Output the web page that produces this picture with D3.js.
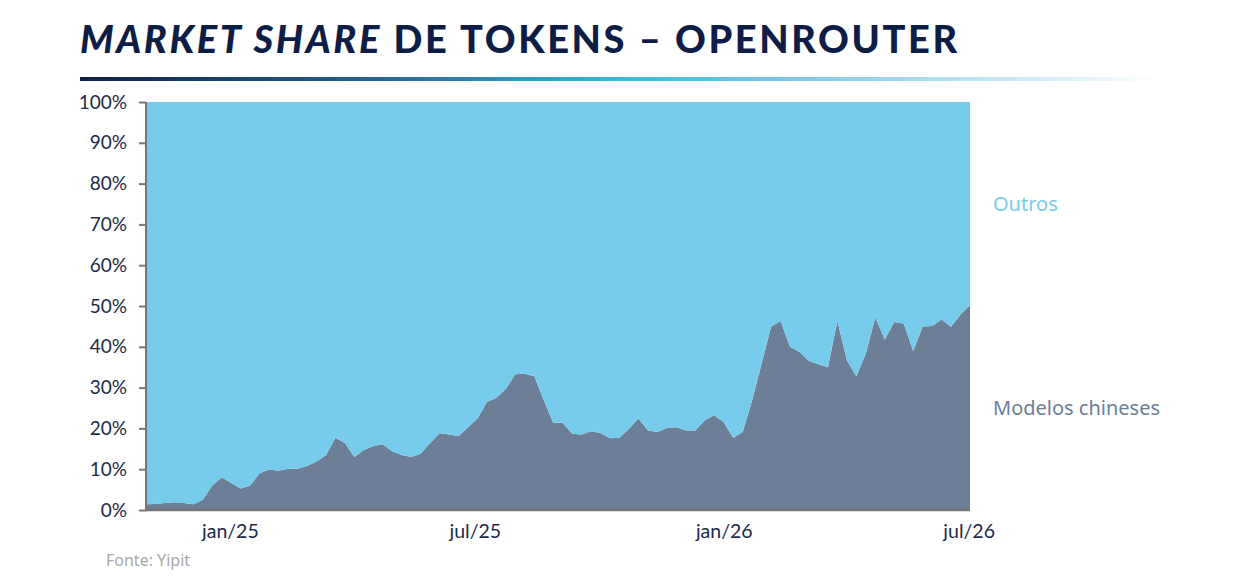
<!DOCTYPE html>
<html>
<head>
<meta charset="utf-8">
<script src="https://cdn.jsdelivr.net/npm/d3@7"></script>
<style>
  body { margin: 0; background: #fff; }
  text { font-family: Lato, "Noto Sans", sans-serif; }
</style>
</head>
<body>
<div id="chart"></div>
<script>
// weekly observations, first week starting 31/oct/24
const startDate = new Date(2024, 9, 31);

const chineseShare = [
    1.4, 1.5, 1.7, 1.9, 1.7, 1.4, 2.5, 6.0, 8.0, 6.6,
    5.3, 6.0, 9.0, 9.9, 9.6, 10.1, 10.1, 10.8, 11.9, 13.4,
    17.7, 16.4, 13.0, 14.7, 15.7, 16.1, 14.4, 13.5, 13.0, 13.8,
    16.4, 18.8, 18.5, 18.1, 20.3, 22.4, 26.5, 27.5, 29.7, 33.3,
    33.4, 32.8, 26.9, 21.3, 21.4, 18.7, 18.5, 19.3, 18.9, 17.6,
    17.7, 19.9, 22.4, 19.5, 19.1, 20.1, 20.3, 19.5, 19.5, 22.0,
    23.2, 21.5, 17.7, 19.1, 26.9, 35.9, 44.9, 46.3, 40.0, 38.7,
    36.5, 35.7, 35.0, 46.3, 36.7, 32.8, 38.3, 47.2, 41.8, 46.1,
    45.7, 39.0, 45.0, 45.1, 46.7, 44.9, 47.9, 50.2
];

const seriesNames = ['Modelos chineses', 'Outros'];
const seriesColors = ['#6c7f96', '#78cceb'];

const tickDates = [new Date(2025, 0, 1), new Date(2025, 6, 1), new Date(2026, 0, 1), new Date(2026, 6, 1)];
const tickLabels = ['jan/25', 'jul/25', 'jan/26', 'jul/26'];
const yTicks = [0, 10, 20, 30, 40, 50, 60, 70, 80, 90, 100];

(function(){
    const fullWidth = 1240;
    const fullHeight = 581;

    const margin = { top: 102, left: 146, bottom: 71, right: 270 };
    const width = fullWidth - margin.left - margin.right;
    const height = fullHeight - margin.top - margin.bottom;

    const data = chineseShare.map((v, i) => ({
        date: d3.timeDay.offset(startDate, i * 7),
        chinese: v,
        outros: 100 - v
    }));

    const root = d3.select('#chart')
        .append('svg')
            .attr('width', fullWidth)
            .attr('height', fullHeight);

    // title
    const title = root.append('text')
        .attr('x', 80)
        .attr('y', 53)
        .attr('fill', '#0e1d45')
        .style('font-size', '38px')
        .style('font-weight', 900)
        .style('letter-spacing', '2.6px');
    title.append('tspan').style('font-style', 'italic').text('MARKET SHARE');
    title.append('tspan').text(' DE TOKENS – OPENROUTER');

    const grad = root.append('defs').append('linearGradient')
        .attr('id', 'rule')
        .attr('x1', '0%').attr('x2', '100%');
    grad.append('stop').attr('offset', '0%').attr('stop-color', '#0d1f4a');
    grad.append('stop').attr('offset', '25%').attr('stop-color', '#1f5f8e');
    grad.append('stop').attr('offset', '50%').attr('stop-color', '#3db4e2');
    grad.append('stop').attr('offset', '78%').attr('stop-color', '#a6dcf1');
    grad.append('stop').attr('offset', '100%').attr('stop-color', '#ffffff');

    root.append('rect')
        .attr('x', 80).attr('y', 77)
        .attr('width', 1080).attr('height', 4)
        .attr('fill', 'url(#rule)');

    const svg = root.append('g')
        .attr('transform', `translate(${margin.left}, ${margin.top})`);

    const xScale = d3.scaleTime()
        .domain(d3.extent(data, d => d.date))
        .range([0, width]);

    const yScale = d3.scaleLinear()
        .domain([0, 100])
        .range([height, 0]);

    const stack = d3.stack().keys(['chinese', 'outros']);
    const layers = stack(data);

    const area = d3.area()
        .x(d => xScale(d.data.date))
        .y0(d => yScale(d[0]))
        .y1(d => yScale(d[1]));

    svg.selectAll('path.layer')
        .data(layers)
        .enter()
        .append('path')
            .attr('class', 'layer')
            .attr('d', area)
            .attr('fill', (d, i) => seriesColors[i]);

    // y axis
    const yAxis = d3.axisLeft(yScale)
        .tickValues(yTicks)
        .tickFormat(d => d + '%')
        .tickSize(7)
        .tickPadding(12);

    const yg = svg.append('g').call(yAxis);
    yg.select('.domain').remove();
    yg.selectAll('line').attr('stroke', '#767676').attr('stroke-width', 2);
    yg.selectAll('text')
        .attr('fill', '#1b2a4a')
        .style('font-size', '19px')
        .style('font-family', 'Lato, sans-serif');

    svg.append('line')
        .attr('x1', 0).attr('x2', 0)
        .attr('y1', 0).attr('y2', height + 1)
        .attr('stroke', '#767676').attr('stroke-width', 2);

    // x axis
    const xAxis = d3.axisBottom(xScale)
        .tickValues(tickDates)
        .tickFormat((d, i) => tickLabels[i])
        .tickSize(0)
        .tickPadding(14);

    const xg = svg.append('g')
            .attr('transform', `translate(0, ${height})`)
        .call(xAxis);
    xg.select('.domain').remove();
    xg.selectAll('text')
        .attr('fill', '#1b2a4a')
        .style('font-size', '19.5px')
        .style('font-family', 'Lato, sans-serif');

    svg.append('line')
        .attr('x1', -1).attr('x2', width)
        .attr('y1', height).attr('y2', height)
        .attr('stroke', '#767676').attr('stroke-width', 2.5);

    // series labels on the right
    const labelY = [25, 75];
    svg.selectAll('text.series')
        .data(seriesNames)
        .enter()
        .append('text')
            .attr('class', 'series')
            .attr('x', width + 23)
            .attr('y', (d, i) => yScale(labelY[i]))
            .attr('dy', '0.35em')
            .attr('fill', (d, i) => seriesColors[i])
            .style('font-family', '"Noto Sans", sans-serif')
            .style('font-size', '20px')
            .text(d => d);

    root.append('text')
        .attr('x', 106)
        .attr('y', 566)
        .attr('fill', '#a9a9a9')
        .style('font-family', '"Noto Sans", sans-serif')
        .style('font-size', '16px')
        .text('Fonte: Yipit');
}())
</script>
</body>
</html>
